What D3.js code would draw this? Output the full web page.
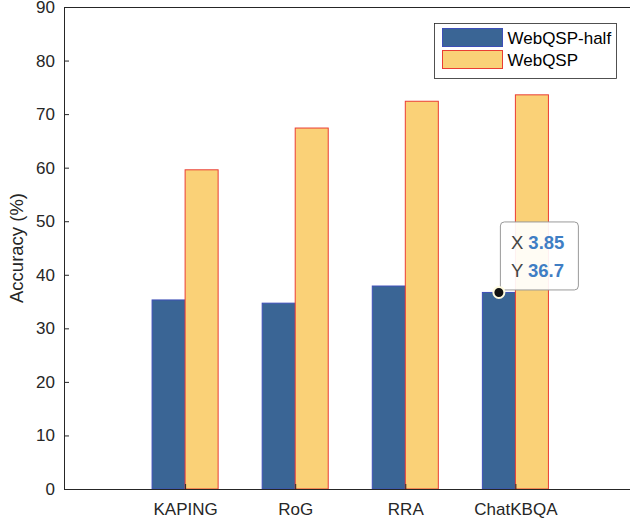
<!DOCTYPE html>
<html>
<head>
<meta charset="utf-8">
<script src="https://cdn.jsdelivr.net/npm/d3@7"></script>
<style>
  body { margin: 0; background: #fff; }
  text { font-family: "Liberation Sans", Arial, sans-serif; }
</style>
</head>
<body>
<script>
// data
const categories = ['KAPING', 'RoG', 'RRA', 'ChatKBQA']
const halfValues = [35.3, 34.7, 37.9, 36.7]
const fullValues = [59.6, 67.4, 72.4, 73.6]
const seriesNames = ['WebQSP-half', 'WebQSP']
const yTicks = [0, 10, 20, 30, 40, 50, 60, 70, 80, 90]

var w = 630
var h = 523
var mLeft = 64, mTop = 7, mBottom = 489, mRight = 631

var svg = d3.select('body').append('svg')
  .attr('width', w)
  .attr('height', h)

var xScale = d3.scaleLinear().domain([-0.1, 5.05]).range([mLeft, mRight])
var yScale = d3.scaleLinear().domain([0, 90]).range([mBottom, mTop])
var barW = 0.3

// bars
var series = [
  { name: seriesNames[0], values: halfValues, offset: -barW, fill: '#3a6595', stroke: '#3d4fb8' },
  { name: seriesNames[1], values: fullValues, offset: 0, fill: '#fad177', stroke: '#ea3d33' }
]

series.forEach(function (s) {
  svg.append('g').selectAll('rect')
    .data(s.values)
    .enter()
    .append('rect')
    .attr('x', function (d, i) { return xScale(i + 1 + s.offset) })
    .attr('y', function (d) { return yScale(d) })
    .attr('width', xScale(barW) - xScale(0))
    .attr('height', function (d) { return yScale(0) - yScale(d) })
    .attr('fill', s.fill)
    .attr('stroke', s.stroke)
    .attr('stroke-width', 1)
})

// axes
var yAxis = d3.axisLeft(yScale).tickValues(yTicks).tickSizeInner(-5).tickSizeOuter(0).tickPadding(9)
var gy = svg.append('g')
  .attr('transform', `translate(${mLeft},0)`)
  .call(yAxis)
gy.selectAll('text').attr('font-size', 17).attr('fill', '#262626').attr('font-family', 'Liberation Sans, Arial, sans-serif')
gy.select('.domain').attr('stroke', '#262626')
gy.selectAll('line').attr('stroke', '#262626')

var xAxis = d3.axisBottom(xScale).tickValues([1, 2, 3, 4])
  .tickFormat(function (d) { return categories[d - 1] })
  .tickSizeInner(-5).tickSizeOuter(0).tickPadding(14)
var gx = svg.append('g')
  .attr('transform', `translate(0,${mBottom})`)
  .call(xAxis)
gx.selectAll('text').attr('font-size', 17).attr('fill', '#262626').attr('font-family', 'Liberation Sans, Arial, sans-serif')
gx.select('.domain').attr('stroke', '#262626')
gx.selectAll('line').attr('stroke', '#262626')

// top box line
svg.append('line')
  .attr('x1', mLeft).attr('x2', mRight)
  .attr('y1', mTop + 0.5).attr('y2', mTop + 0.5)
  .attr('stroke', '#262626')

// y label
svg.append('text')
  .attr('transform', `translate(23,${(mTop + mBottom) / 2}) rotate(-90)`)
  .attr('text-anchor', 'middle')
  .attr('font-size', 18.5)
  .attr('fill', '#262626')
  .text('Accuracy (%)')

// legend
var lg = svg.append('g').attr('transform', 'translate(434.5,23.5)')
lg.append('rect').attr('width', 182).attr('height', 55)
  .attr('fill', '#fff').attr('stroke', '#262626').attr('stroke-width', 0.8)
series.forEach(function (s, i) {
  lg.append('rect')
    .attr('x', 8).attr('y', 5 + i * 22)
    .attr('width', 60).attr('height', 18)
    .attr('fill', s.fill).attr('stroke', s.stroke)
  lg.append('text')
    .attr('x', 73).attr('y', 20 + i * 22)
    .attr('font-size', 17)
    .attr('fill', '#000')
    .text(s.name)
})

// datatip on ChatKBQA half bar
var tipX = 4 - barW / 2
var tipY = halfValues[3]
var px = xScale(tipX), py = yScale(tipY)
var tip = svg.append('g')
tip.append('rect')
  .attr('x', px + 1.5).attr('y', py - 70.5)
  .attr('width', 78).attr('height', 68)
  .attr('rx', 4)
  .attr('fill', '#fff').attr('fill-opacity', 0.92)
  .attr('stroke', '#999')
tip.append('text').attr('x', px + 12).attr('y', py - 43).attr('font-size', 18.5)
  .call(function (t) {
    t.append('tspan').attr('fill', '#444').text('X ')
    t.append('tspan').attr('fill', '#3f7ec4').attr('font-weight', 'bold').text(tipX.toFixed(2))
  })
tip.append('text').attr('x', px + 12).attr('y', py - 15).attr('font-size', 18.5)
  .call(function (t) {
    t.append('tspan').attr('fill', '#444').text('Y ')
    t.append('tspan').attr('fill', '#3f7ec4').attr('font-weight', 'bold').text(tipY.toFixed(1))
  })
tip.append('circle')
  .attr('cx', px).attr('cy', py).attr('r', 5.5)
  .attr('fill', '#111').attr('stroke', '#fffbe0').attr('stroke-width', 2)
</script>
</body>
</html>
